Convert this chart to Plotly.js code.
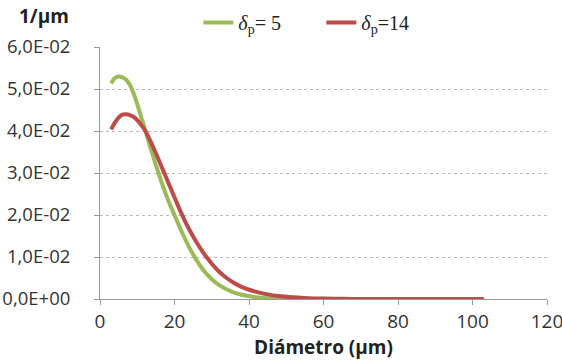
<!DOCTYPE html>
<html>
<head>
<meta charset="utf-8">
<script src="https://cdn.plot.ly/plotly-3.0.1.min.js"></script>
<style>html,body{margin:0;padding:0;background:#fff;}#chart{width:562px;height:361px;}</style>
</head>
<body>
<div id="chart"></div>
<script>
// Diameter (µm)
const diameterGreen = [3,4,5,6,7,8,9,10,11,12,13,14,15,16,17,18,19,20,21,22,23,24,25,26,27,28,29,30,32,34,36,38,40,42,45,48,52,56,60,70,80,90,103];
const deltaP5 = [0.0513,0.0526,0.0530,0.0528,0.0522,0.0510,0.0490,0.0464,0.0435,0.0406,0.0376,0.0347,0.0319,0.0292,0.0266,0.0242,0.0220,0.0200,0.0179,0.0159,0.0140,0.0122,0.0106,0.0091,0.0078,0.0066,0.0056,0.0047,0.0033,0.0023,0.0015,0.0010,0.0007,0.0004,0.0002,0.0001,0.00004,0.00001,0,0,0,0,0];
const diameterRed = [3,4,5,6,7,8,9,10,11,12,13,14,15,16,17,18,19,20,21,22,23,24,25,26,27,28,29,30,32,34,36,38,40,42,45,48,52,56,60,65,70,80,90,103];
const deltaP14 = [0.0404,0.0420,0.0432,0.0439,0.0440,0.0438,0.0434,0.0426,0.0415,0.0403,0.0386,0.0367,0.0347,0.0326,0.0305,0.0284,0.0263,0.0242,0.0221,0.0201,0.0182,0.0165,0.0149,0.0134,0.0120,0.0107,0.0095,0.0084,0.0065,0.0050,0.0038,0.0029,0.0022,0.0017,0.0011,0.0007,0.0004,0.0002,0.0001,0.00005,0.00002,0.00001,0,0];
const seriesNames = ["<i>δ</i><sub>p</sub>= 5", "<i>δ</i><sub>p</sub>=14"];
const yTickVals = [0,0.01,0.02,0.03,0.04,0.05,0.06];
const yTickText = ["0,0E+00","1,0E-02","2,0E-02","3,0E-02","4,0E-02","5,0E-02","6,0E-02"];
const xTickVals = [0,20,40,60,80,100,120];

const traces = [
  {x: diameterGreen, y: deltaP5, name: seriesNames[0], type: 'scatter', mode: 'lines',
   line: {color: '#9BBB59', width: 4, shape: 'spline', smoothing: 0.8}},
  {x: diameterRed, y: deltaP14, name: seriesNames[1], type: 'scatter', mode: 'lines',
   line: {color: '#BE4B48', width: 4, shape: 'spline', smoothing: 0.8}}
];

const layout = {
  width: 562, height: 361,
  margin: {l: 100, r: 15, t: 47, b: 62, autoexpand: false},
  paper_bgcolor: '#fff', plot_bgcolor: '#fff',
  font: {family: 'Open Sans, Liberation Sans, sans-serif', color: '#333'},
  showlegend: true,
  legend: {orientation: 'h', x: 0.22, y: 1.175, xanchor: 'left', yanchor: 'top',
    font: {family: 'Liberation Serif, serif', size: 20, color: '#222'},
    itemwidth: 30, entrywidth: 78, tracegroupgap: 0, bgcolor: 'rgba(0,0,0,0)'},
  xaxis: {range: [0, 120], tickvals: xTickVals, ticks: 'outside', ticklen: 5, tickcolor: '#999',
    automargin: false, ticklabeloverflow: 'allow',
    showline: true, linecolor: '#999', linewidth: 1, showgrid: false, zeroline: false,
    tickfont: {size: 19, color: '#333'},
    title: {text: '<b>Diámetro (µm)</b>', font: {size: 19, color: '#222'}, standoff: 6}},
  yaxis: {range: [0, 0.06], tickvals: yTickVals, ticktext: yTickText, ticks: 'outside', ticklen: 5, tickcolor: '#999',
    ticklabelstandoff: 20, automargin: false, ticklabeloverflow: 'allow',
    showline: true, linecolor: '#999', linewidth: 1, showgrid: true, gridcolor: '#bbb', griddash: 'dot', gridwidth: 1,
    zeroline: false, tickfont: {size: 18.5, color: '#333'}},
  annotations: [{text: '<b>1/µm</b>', xref: 'paper', yref: 'paper', x: -0.185, y: 1.065,
    xanchor: 'left', yanchor: 'bottom', showarrow: false, font: {size: 19, color: '#222'}}]
};

Plotly.newPlot('chart', traces, layout, {displayModeBar: false, staticPlot: true});
</script>
</body>
</html>
